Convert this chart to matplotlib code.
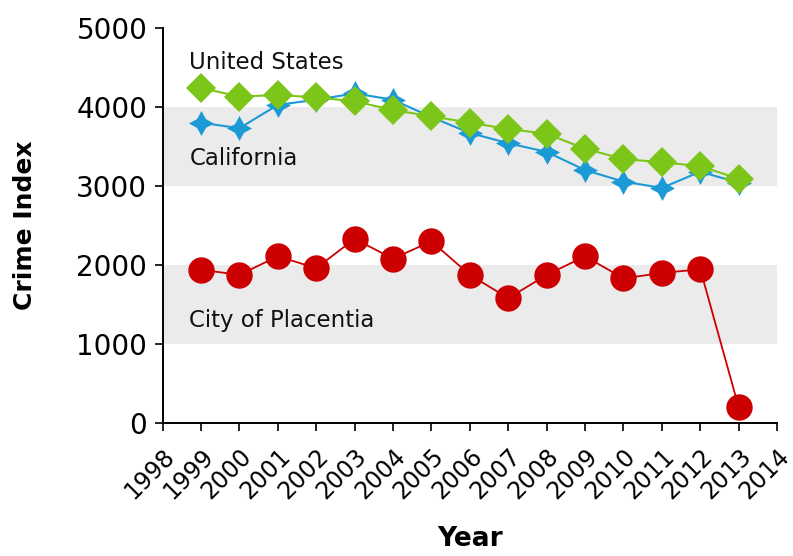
import matplotlib.pyplot as plt
import numpy as np

years = list(range(1999, 2014))
united_states = [4240, 4130, 4150, 4120, 4070, 3960, 3880, 3800, 3720, 3660, 3470, 3340, 3300, 3250, 3090]
california = [3800, 3730, 4025, 4090, 4170, 4090, 3870, 3670, 3540, 3430, 3200, 3055, 2975, 3180, 3040]
placentia = [1940, 1875, 2110, 1960, 2330, 2080, 2300, 1875, 1580, 1875, 2110, 1830, 1900, 1945, 200]

fig = plt.figure(figsize=(7.93, 5.56), dpi=100)
ax = fig.add_axes([0.205, 0.239, 0.775, 0.711])

# grey bands behind the lines
ax.axhspan(1000, 2000, color='#ebebeb', zorder=0, lw=0)
ax.axhspan(3000, 4000, color='#ebebeb', zorder=0, lw=0)

ax.plot(years, california, color='#1c9ad6', lw=1.5, marker=(4, 1, 0), ms=18,
        markeredgewidth=0, zorder=3)
ax.plot(years, united_states, color='#7cc61a', lw=1.5, marker='D', ms=15,
        markeredgewidth=0, zorder=4)
ax.plot(years, placentia, color='#cc0000', lw=1.3, marker='o', ms=19,
        markeredgewidth=0, zorder=3)

ax.text(1998.7, 4560, 'United States', fontsize=16.5, ha='left', va='center', color='#111111')
ax.text(1998.7, 3350, 'California', fontsize=16.5, ha='left', va='center', color='#111111')
ax.text(1998.7, 1300, 'City of Placentia', fontsize=16.5, ha='left', va='center', color='#111111')

ax.set_xlim(1998, 2014)
ax.set_ylim(0, 5000)
ax.set_xticks(range(1998, 2015))
ax.set_xticklabels([str(y) for y in range(1998, 2015)], rotation=45, ha='right',
                   va='top', rotation_mode='anchor', fontsize=17)
ax.set_yticks(range(0, 5001, 1000))
ax.tick_params(axis='y', labelsize=20, length=6, width=1.2, pad=5)
ax.tick_params(axis='x', length=6, width=1.2, pad=9)

for s in ['top', 'right']:
    ax.spines[s].set_visible(False)
for s in ['left', 'bottom']:
    ax.spines[s].set_linewidth(1.4)

ax.set_ylabel('Crime Index', fontsize=18, fontweight='bold', labelpad=28)
fig.text(0.593, 0.03, 'Year', fontsize=19, fontweight='bold', ha='center', va='center')

plt.savefig('out.png', dpi=100)
